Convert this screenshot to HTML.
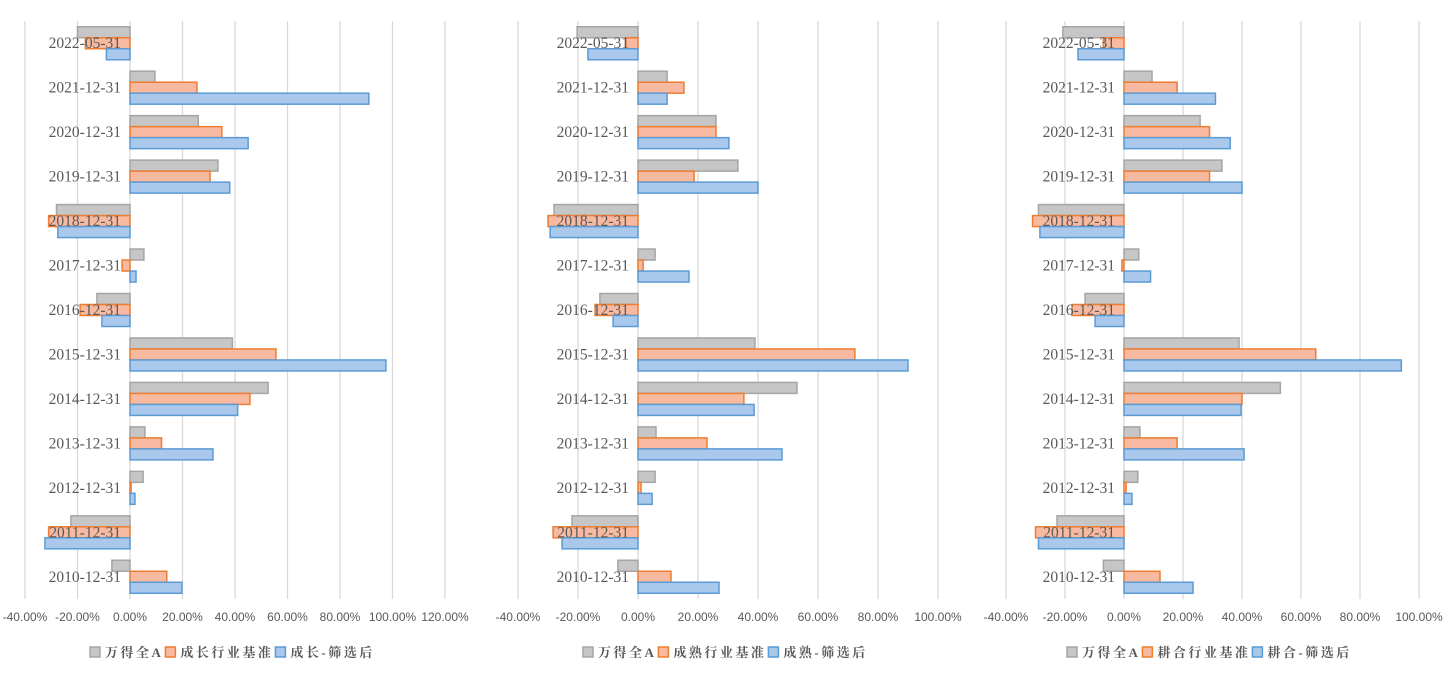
<!DOCTYPE html>
<html><head><meta charset="utf-8">
<style>
html,body{margin:0;padding:0;background:#fff;width:1455px;height:675px;overflow:hidden}
svg{display:block}
</style></head>
<body>
<svg id="root" width="1455" height="675"></svg>
<script>
const categories=["2022-05-31","2021-12-31","2020-12-31","2019-12-31","2018-12-31","2017-12-31","2016-12-31","2015-12-31","2014-12-31","2013-12-31","2012-12-31","2011-12-31","2010-12-31"];
const windA=[-20,9.5,26,33.5,-28,5.3,-12.6,39,52.6,5.7,5,-22.5,-6.9];
const growthBench=[-17,25.5,35,30.5,-31,-3,-19,55.6,45.7,12,0.4,-31,14];
const growthSel=[-9,91,45,38,-27.5,2.3,-10.7,97.5,41,31.6,1.9,-32.4,19.8];
const matureBench=[-4,15.3,26,18.7,-30,1.7,-14.3,72.3,35.3,23,1,-28.3,11];
const matureSel=[-16.7,9.7,30.3,40,-29.3,17,-8.3,90,38.7,48,4.7,-25.3,27];
const windA2=[-20.3,9.7,26,33.3,-28,5.7,-12.7,39,53,6,5.7,-22,-6.7];
const mixBench=[-7,18,29,29,-31,-0.7,-17.6,65,40,18,0.7,-30,12.2];
const mixSel=[-15.6,31,36,40,-28.5,9,-9.8,94,39.7,40.7,2.7,-29,23.4];
const windA3=[-20.7,9.5,25.8,33.2,-29,5,-13.2,39,53,5.4,4.7,-22.7,-7];
const ticks1=[-40,-20,0,20,40,60,80,100,120];
const ticks2=[-40,-20,0,20,40,60,80,100];
const legend1=["万得全A","成长行业基准","成长-筛选后"];
const legend2=["万得全A","成熟行业基准","成熟-筛选后"];
const legend3=["万得全A","耕合行业基准","耕合-筛选后"];

const NS="http://www.w3.org/2000/svg";
const root=document.getElementById('root');
function mk(tag,attrs,parent){const e=document.createElementNS(NS,tag);for(const k in attrs)e.setAttribute(k,attrs[k]);parent.appendChild(e);return e;}
const fills=["#c6c6c6","#f7b9a0","#a9c8ec"];
const strokes=["#a5a5a5","#ed7d31","#5b9bd5"];

function chart(id,x0,pxPerPct,ticks,series,legend,legX){
  const g=mk('g',{},root);
  
  
  const top=21,bottom=599;
  const X=v=>x0+v*pxPerPct;
  ticks.forEach(t=>{
    const l=mk('line',{x1:X(t),x2:X(t),y1:top,y2:bottom,stroke:'#d9d9d9','stroke-width':1.3},g);
    
    
    const tx=mk('text',{x:X(t),y:621,'text-anchor':'middle','font-size':12,fill:'#595959','font-family':'Liberation Sans, sans-serif'},g);
    
    
    tx.textContent=t.toFixed(2)+'%';
  });
  const band=(bottom-top)/categories.length;
  const bh=11;
  categories.forEach((c,i)=>{
    const cy=top+band*(i+0.5);
    series.forEach((s,k)=>{
      const v=s[i];
      const y=cy-1.5*bh+k*bh;
      const r=mk('rect',{x:Math.min(X(0),X(v)),y:y,width:Math.abs(X(v)-X(0)),height:bh,fill:fills[k],stroke:strokes[k],'stroke-width':1.5},g);
      
      
    });
    const t=mk('text',{x:X(0)-9,y:cy+5,'text-anchor':'end','font-size':15.5,fill:'#595959','font-family':'Liberation Serif, serif'},g);
    
    
    t.textContent=c;
  });
  let lx=legX;
  legend.forEach((name,k)=>{
    const r=mk('rect',{x:lx,y:647,width:10,height:10,fill:fills[k],stroke:strokes[k],'stroke-width':1.5},g);
    
    
    const t=mk('text',{x:lx+15,y:657,'font-size':13,'font-weight':'bold','letter-spacing':'2.5',fill:'#595959','font-family':'Liberation Serif, Noto Serif CJK SC, serif'},g);
    
    
    t.textContent=name;
    lx+=15+t.getComputedTextLength()+2;
  });
}
chart('growth-chart',130,2.625,ticks1,[windA,growthBench,growthSel],legend1,90);
chart('mature-chart',638,3.0,ticks2,[windA2,matureBench,matureSel],legend2,583);
chart('mix-chart',1124,2.95,ticks2,[windA3,mixBench,mixSel],legend3,1067);
</script>
</body></html>
